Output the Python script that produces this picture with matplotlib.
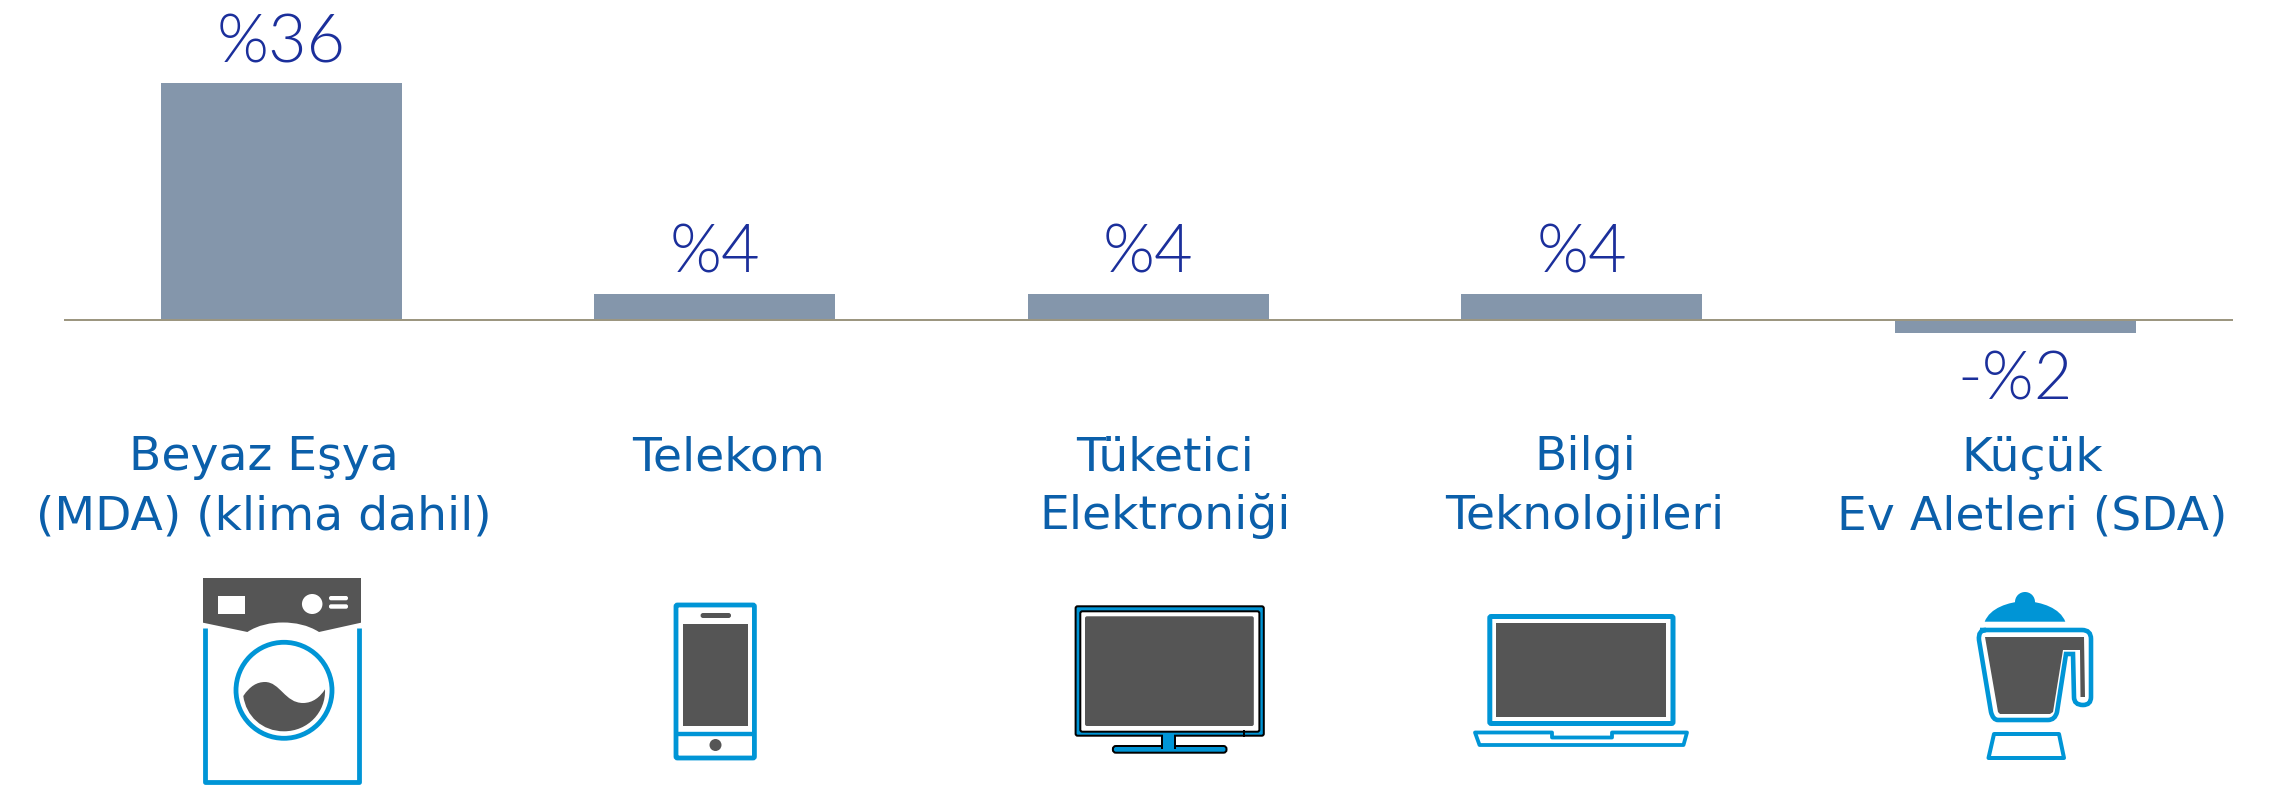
import matplotlib
matplotlib.use("Agg")
import matplotlib.pyplot as plt
from matplotlib.patches import Circle, Ellipse, FancyBboxPatch, PathPatch, Polygon, Rectangle
from matplotlib.path import Path

categories = ["Beyaz Eşya\n(MDA) (klima dahil)", "Telekom", "Tüketici\nElektroniği",
              "Bilgi\nTeknolojileri", "Küçük\nEv Aletleri (SDA)"]
values = [36, 4, 4, 4, -2]
value_labels = ["%36", "%4", "%4", "%4", "-%2"]
# label centres sit off the bar centres in the original, so they are pixel positions
label_x = [264, 729, 1165, 1585, 2032]

BAR = "#8496AB"
AXIS = "#9C9680"
NAVY = "#1B2F9B"
TEXT = "#0B5FAA"
BLUE = "#0095D6"
DARK = "#555555"

W, H = 2276, 790
fig = plt.figure(figsize=(W / 100, H / 100), dpi=100)


def lw(px):
    return px * 72 / 100


# chart axes: 6.57 px per percentage point, zero line at y=320
ax = fig.add_axes([64.5 / W, 1 - 359.4 / H, (2232 - 64.5) / W, 328.5 / H])
ax.bar(range(5), values, width=0.556, color=BAR, zorder=2)
ax.set_xlim(-0.5, 4.5)
ax.set_ylim(-6, 44)
for side in ["top", "left", "right"]:
    ax.spines[side].set_visible(False)
ax.spines["bottom"].set_position(("data", 0))
ax.spines["bottom"].set_color(AXIS)
ax.spines["bottom"].set_linewidth(lw(2))
ax.spines["bottom"].set_zorder(3)
ax.set_xticks([])
ax.set_yticks([])
ax.patch.set_alpha(0)

for i, (v, s) in enumerate(zip(values, value_labels)):
    off = 15 if v > 0 else -48
    ax.annotate(s, (i, v), xytext=(0, off), textcoords="offset points", ha="center",
                va="baseline", fontsize=48, color=NAVY, family="Lato", weight=300)

# overlay in image pixels for the text rows and the icons
ov = fig.add_axes([0, 0, 1, 1])
ov.set_xlim(0, W)
ov.set_ylim(H, 0)
ov.axis("off")

for x, name in zip(label_x, categories):
    for row, line in enumerate(name.split("\n")):
        ov.text(x, 470.5 + row * 58.5, line, ha="center", va="baseline", fontsize=34,
                color=TEXT, family="DejaVu Sans")


def stroke(pts, px=4.8, closed=False):
    ov.add_patch(Polygon(pts, closed=closed, fill=False, edgecolor=BLUE, lw=lw(px), joinstyle="round",
                         capstyle="butt"))


def box(x0, y0, x1, y1, fc="none", ec="none", px=0, r=1.5):
    ov.add_patch(FancyBboxPatch((x0 + r, y0 + r), x1 - x0 - 2 * r, y1 - y0 - 2 * r,
                                boxstyle=f"round,pad={r},rounding_size={r}", fc=fc, ec=ec, lw=lw(px)))


def curve(segments, **kw):
    # segments: start point then (code, points...) runs
    verts = [segments[0]]
    codes = [Path.MOVETO]
    for code, pts in segments[1:]:
        verts += pts
        codes += [code] * len(pts)
    ov.add_patch(PathPatch(Path(verts, codes), **kw))


# washing machine
curve([(203, 578), (Path.LINETO, [(361, 578), (361, 622.7), (319, 632)]),
       (Path.CURVE4, [(308, 625), (295, 622.5), (283, 622.5)]),
       (Path.CURVE4, [(271, 622.5), (258, 625), (247.4, 632)]),
       (Path.LINETO, [(203, 622.7), (203, 578)])], fc=DARK, ec="none")
ov.add_patch(Rectangle((218, 596), 27, 18, fc="white", ec="none"))
ov.add_patch(Ellipse((312.2, 604), 20.5, 20, fc="white", ec="none"))
box(329, 596, 348, 600.3, fc="white", r=2)
box(329, 604.3, 348, 608.7, fc="white", r=2)
stroke([(205.3, 628), (205.3, 782), (358.7, 782), (358.7, 628)])
ov.add_patch(Circle((284, 690.3), 48, fill=False, ec=BLUE, lw=lw(4.8)))
curve([(243.3, 696), (Path.CURVE4, [(250, 686), (257, 682), (265, 682)]),
       (Path.CURVE4, [(280, 682), (285, 703), (303, 703)]),
       (Path.CURVE4, [(313, 703), (320, 697), (325, 689.3)]),
       (Path.CURVE4, [(326, 712), (308, 731.3), (284, 731.3)]),
       (Path.CURVE4, [(262, 731.3), (246, 716), (243.3, 696)])], fc=DARK, ec="none")

# phone
box(676, 605, 754.4, 758, ec=BLUE, px=4.8)
ov.plot([676, 754.4], [733.7, 733.7], color=BLUE, lw=lw(4.4), solid_capstyle="butt")
ov.add_patch(Rectangle((682.8, 624), 65.5, 102.3, fc=DARK, ec="none"))
box(700.6, 613, 731, 618, fc=DARK, r=2.4)
ov.add_patch(Circle((715.5, 745), 6, fc=DARK, ec="none"))

# monitor
box(1112.9, 746, 1226.5, 752.7, fc=BLUE, ec="black", px=2, r=3)
ov.add_patch(Rectangle((1162.3, 733), 13, 15, fc=BLUE, ec="black", lw=lw(2)))
box(1075.6, 606.3, 1263.8, 735.7, fc=BLUE, ec="black", px=2, r=2)
ov.add_patch(Rectangle((1163.3, 733), 11, 17, fc=BLUE, ec="none"))
box(1080.3, 611.3, 1259.4, 731.7, fc="white", ec="black", px=2, r=2)
box(1085, 616.3, 1253.8, 726, fc=DARK, r=2)
ov.plot([1243.8, 1243.8], [731, 736], color="black", lw=lw(2))

# laptop
box(1489.8, 616.5, 1673, 723.5, ec=BLUE, px=5)
ov.add_patch(Rectangle((1496.2, 623.3), 170, 93.4, fc=DARK, ec="none"))
stroke([(1475, 732.5), (1552, 732.5), (1552, 737.5), (1612, 737.5), (1612, 732.5), (1687, 732.5),
        (1683.5, 745), (1479.5, 745)], px=3.8, closed=True)

# blender
ov.add_patch(Circle((2025, 602), 10, fc=BLUE, ec="none"))
curve([(1984.7, 621.7), (Path.CURVE4, [(1990, 608), (2008, 602), (2025, 601)]),
       (Path.CURVE4, [(2042, 602), (2060, 608), (2065.3, 621.7)]),
       (Path.LINETO, [(1984.7, 621.7)])], fc=BLUE, ec="none")
curve([(1980, 630), (Path.LINETO, [(2082, 630)]), (Path.CURVE3, [(2091, 630), (2091, 639)]),
       (Path.LINETO, [(2091, 697)]), (Path.CURVE3, [(2091, 705), (2083, 705)]),
       (Path.CURVE3, [(2074, 705), (2074, 697)]), (Path.LINETO, [(2073, 654), (2066, 654)]),
       (Path.LINETO, [(2057, 712)]), (Path.CURVE3, [(2055, 720), (2048, 720)]),
       (Path.LINETO, [(1998, 720)]), (Path.CURVE3, [(1993, 720), (1991, 712)]),
       (Path.LINETO, [(1979, 640)]), (Path.CURVE3, [(1978, 630), (1986, 630)])],
      fc="none", ec=BLUE, lw=lw(4.6))
ov.add_patch(Polygon([(1985, 637), (2084, 637), (2085, 697), (2080.5, 697), (2080, 650), (2063, 650),
                      (2053, 712), (2050, 714), (2000, 714), (1998, 712)], fc=DARK, ec="none"))
stroke([(1994, 734), (2059, 734), (2064, 758), (1988.5, 758)], px=4, closed=True)

fig.savefig("out.png", dpi=100)
plt.close(fig)
